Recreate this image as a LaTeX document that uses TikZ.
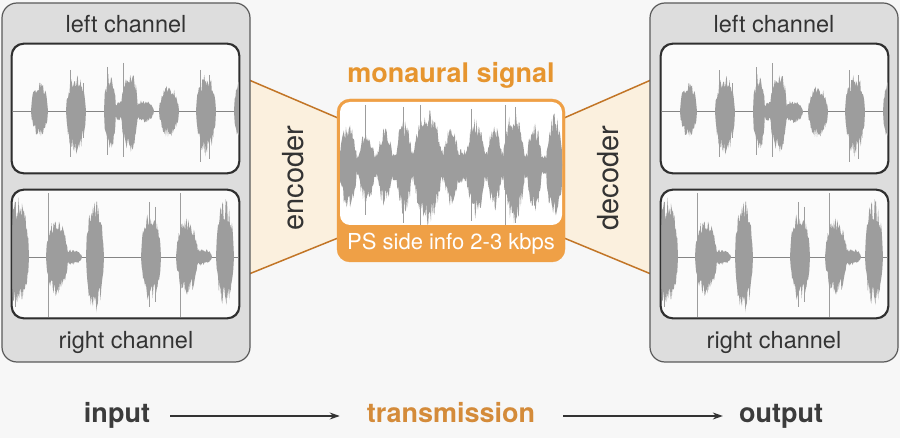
\documentclass[tikz,border=0pt]{standalone}
\usepackage{fontspec}
\setmainfont{TeX Gyre Heros}
\usepackage{xcolor}
\usepackage{tikz}
\usetikzlibrary{arrows.meta, calc, positioning}

\definecolor{bgcol}{HTML}{F7F7F7}
\definecolor{boxfill}{HTML}{DDDDDD}
\definecolor{boxedge}{HTML}{5A5A5A}
\definecolor{panelfill}{HTML}{FBFBFB}
\definecolor{paneledge}{HTML}{2F2F2F}
\definecolor{wavecol}{HTML}{9D9D9D}
\definecolor{funnelfill}{HTML}{FBF0DE}
\definecolor{funneledge}{HTML}{C27526}
\definecolor{monoorange}{HTML}{EFA046}
\definecolor{titleorange}{HTML}{E6952F}
\definecolor{transorange}{HTML}{D48B3A}
\definecolor{txt}{HTML}{333333}
\definecolor{steptxt}{HTML}{3C3C3C}

\tikzset{
    outerbox/.style={draw=boxedge, fill=boxfill, rounded corners=15pt, line width=1.2pt,
        minimum width=248pt, minimum height=359pt, inner sep=0pt},
    panel/.style={draw=paneledge, fill=panelfill, rounded corners=12pt, line width=1.3pt,
        minimum width=227pt, inner sep=0pt},
    wave/.style={fill=wavecol},
    spikeline/.style={draw=wavecol, line width=0.9pt},
    midline/.style={draw=wavecol!85!black, line width=0.9pt},
    funnel/.style={fill=funnelfill},
    funnelline/.style={draw=funneledge, line width=1.5pt},
    chlabel/.style={text=txt, font=\fontsize{23.5}{26}\selectfont},
    codlabel/.style={text=txt, rotate=90, font=\fontsize{29}{32}\selectfont},
    steplabel/.style={inner sep=0pt, text height=19pt, text depth=6pt,
        font=\bfseries\fontsize{27}{30}\selectfont},
    flow/.style={draw=txt, line width=1.1pt, -{Stealth[length=10pt, width=7pt]}}
}

% one burst of the waveform: from, to (relative to \wx), height up, height down
\newcommand{\burst}[4]{%
    \pgfmathsetmacro{\ba}{\wx+#1}%
    \pgfmathsetmacro{\bb}{\wx+#2}%
    \pgfmathsetmacro{\bk}{180/(#2-#1)}%
    \pgfmathtruncatemacro{\bn}{max(6,1.5*(#2-#1))}%
    \fill[wave] plot[domain=\ba:\bb, samples=\bn]
        (\x, {\wy-#3*(0.6+0.4*rnd)*sqrt(abs(sin(\bk*(\x-\ba))))})
        -- plot[domain=\bb:\ba, samples=\bn]
        (\x, {\wy+#4*(0.6+0.4*rnd)*sqrt(abs(sin(\bk*(\x-\ba))))}) -- cycle;
}
% a single thin peak
\newcommand{\spike}[3]{\draw[spikeline] (\wx+#1, \wy-#2) -- (\wx+#1, \wy+#3);}

% left channel signal
\newcommand{\leftwave}{%
    \pgfmathsetseed{7}
    \draw[midline] (\wx-5,\wy) -- (\wx+235,\wy);
    \burst{19}{36}{31}{26}
    \burst{54}{74}{38}{44}
    \spike{58}{41}{46}
    \spike{71}{28}{27}
    \burst{92}{104}{40}{42}
    \spike{95}{44}{44}
    \burst{100}{118}{10}{10} % tail
    \burst{109}{126}{44}{44}
    \spike{111}{48}{46}
    \burst{122}{142}{12}{12} % tail
    \burst{147}{167}{26}{27}
    \burst{184}{204}{38}{46}
    \spike{188}{41}{51}
    \spike{197}{36}{48}
    \burst{222}{232}{31}{31}
}

% right channel signal
\newcommand{\rightwave}{%
    \pgfmathsetseed{13}
    \draw[midline] (\wx-5,\wy) -- (\wx+235,\wy);
    \burst{-4}{17}{60}{53}
    \spike{3}{55}{50}
    \burst{34}{56}{42}{40}
    \spike{36}{64}{60}
    \burst{50}{70}{8}{8} % tail
    \burst{74}{92}{59}{60}
    \burst{129}{149}{48}{46}
    \spike{137}{55}{50}
    \spike{143}{50}{45}
    \burst{164}{186}{40}{40}
    \spike{168}{64}{60}
    \burst{180}{200}{9}{9} % tail
    \burst{204}{222}{59}{50}
}

\begin{document}
\begin{tikzpicture}[x=1pt, y=-1pt]
    % Background
    \fill[bgcol] (0,0) rectangle (900,438);
    \useasboundingbox (0,0) rectangle (900,438);

    % Encoder and decoder funnels
    \fill[funnel] (250,80) -- (337,118) -- (337,238) -- (250,274) -- cycle;
    \fill[funnel] (565,118) -- (650,80) -- (650,274) -- (565,238) -- cycle;
    \draw[funnelline] (249,80) -- (338,118) (249,274) -- (338,238);
    \draw[funnelline] (564,118) -- (651,80) (564,238) -- (651,274);

    % Input and output boxes
    \node[outerbox] (inBox) at (126,182.5) {};
    \node[outerbox] (outBox) at (774,182.5) {};
    \node[panel, minimum height=129pt] (inLeft) at (125.5,108.5) {};
    \node[panel, minimum height=128pt] (inRight) at (125.5,254) {};
    \node[panel, minimum height=129pt] (outLeft) at (774.5,108.5) {};
    \node[panel, minimum height=128pt] (outRight) at (774.5,254) {};

    % Waveforms
    \begin{scope}
        \clip[rounded corners=12pt] (inLeft.south west) rectangle (inLeft.north east);
        \def\wx{12}\def\wy{111}
        \leftwave
    \end{scope}
    \begin{scope}
        \clip[rounded corners=12pt] (outLeft.south west) rectangle (outLeft.north east);
        \def\wx{661}\def\wy{111.5}
        \leftwave
    \end{scope}
    \begin{scope}
        \clip[rounded corners=12pt] (inRight.south west) rectangle (inRight.north east);
        \def\wx{12}\def\wy{257}
        \rightwave
    \end{scope}
    \begin{scope}
        \clip[rounded corners=12pt] (outRight.south west) rectangle (outRight.north east);
        \def\wx{661}\def\wy{257}
        \rightwave
    \end{scope}
    \foreach \p in {inLeft, inRight, outLeft, outRight}
        \draw[draw=paneledge, line width=1.3pt, rounded corners=12pt] (\p.south west) rectangle (\p.north east);

    % Channel labels
    \node[chlabel] (inLeftLbl) at (126,24) {left channel};
    \node[chlabel] (inRightLbl) at (126,342) {right channel};
    \node[chlabel] (outLeftLbl) at (774,24) {left channel};
    \node[chlabel] (outRightLbl) at (774,342) {right channel};

    % Monaural signal
    \node[draw=monoorange, fill=monoorange, rounded corners=13pt, minimum width=228pt,
        minimum height=163pt, inner sep=0pt] (monoBox) at (451,180.5) {};
    \fill[white, rounded corners=10pt] (340,102) rectangle (562,225);
    \begin{scope}
        \clip[rounded corners=10pt] (340,102) rectangle (562,225);
        \def\wx{0}\def\wy{165}
        \pgfmathsetseed{21}
        \burst{330}{572}{16}{18}
        \burst{339}{357}{42}{46}
        \burst{358}{375}{34}{40}
        \spike{365}{60}{50}
        \burst{377}{393}{38}{42}
        \burst{396}{412}{46}{52}
        \spike{403}{58}{58}
        \burst{413}{442}{56}{60}
        \spike{420}{60}{60}
        \burst{443}{459}{38}{42}
        \burst{466}{485}{48}{54}
        \spike{471}{56}{56}
        \burst{487}{502}{42}{46}
        \burst{503}{525}{56}{60}
        \spike{505}{60}{60}
        \spike{515}{58}{58}
        \burst{527}{542}{42}{48}
        \burst{546}{563}{52}{56}
    \end{scope}
    \node[text=white, font=\fontsize{22}{24}\selectfont] (sideInfo) at (451,244) {PS side info 2-3 kbps};
    \node[text=titleorange, font=\bfseries\fontsize{27}{30}\selectfont] (monoLbl) at (451,75) {monaural signal};

    % Encoder / decoder
    \node[codlabel] (enc) at (293,178) {encoder};
    \node[codlabel] (dec) at (608,178) {decoder};

    % Bottom row
    \node[steplabel, text=steptxt] (input) at (117,416) {input};
    \node[steplabel, text=transorange] (trans) at (451,416) {transmission};
    \node[steplabel, text=steptxt] (output) at (781,416) {output};
    \draw[flow] ([xshift=20pt]input.east) -- ([xshift=-27pt]trans.west);
    \draw[flow] ([xshift=28pt]trans.east) -- ([xshift=-16pt]output.west);
\end{tikzpicture}
\end{document}
